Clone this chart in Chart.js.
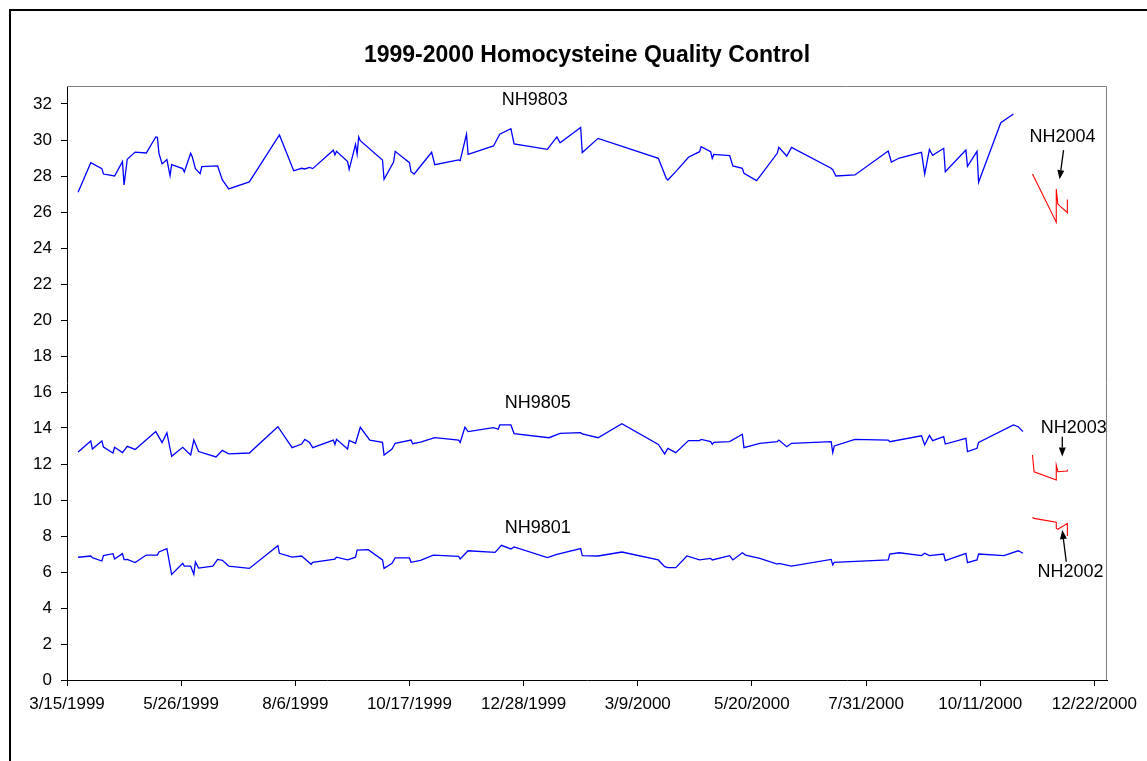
<!DOCTYPE html>
<html>
<head>
<meta charset="utf-8">
<title>1999-2000 Homocysteine Quality Control</title>
<script src="https://cdn.jsdelivr.net/npm/chart.js@4.4.1/dist/chart.umd.min.js"></script>
<style>
  html, body { margin: 0; padding: 0; background: #fff; }
  canvas { display: block; }
</style>
</head>
<body>
<canvas id="chart" width="1147" height="761"></canvas>
<script>
// x values are days counted from 3/15/1999
const xMax = 656;
const xTicks = [0, 72, 144, 216, 288, 360, 432, 504, 576, 648];
const yTicks = [0, 2, 4, 6, 8, 10, 12, 14, 16, 18, 20, 22, 24, 26, 28, 30, 32];

const nh9803Days = [7, 15, 22, 23, 30, 35, 36, 38, 43, 50, 56, 57, 58, 60, 63, 65, 66, 73, 74, 78, 79, 81, 84, 85, 95, 98, 102, 115,
  134, 143, 148, 150, 153, 155, 168, 169, 170, 177, 178, 182, 183, 184, 185, 199, 200, 206, 207, 216, 217, 219, 230, 232,
  247, 248, 252, 253, 269, 273, 280, 282, 303, 309, 311, 324, 325, 335, 373, 378, 379, 384, 392, 399, 400, 406, 407, 408,
  418, 420, 426, 427, 435, 448, 449, 454, 457, 482, 483, 485, 497, 518, 520, 525, 539, 541, 544, 546, 553, 554, 567, 568,
  574, 575, 589, 597];
const nh9803Vals = [27.1, 28.74, 28.41, 28.11, 28.0, 28.8, 27.5, 28.93, 29.33, 29.28, 30.17, 30.15, 29.26, 28.67, 28.91, 28.02, 28.63,
  28.41, 28.22, 29.26, 29.07, 28.41, 28.13, 28.52, 28.56, 27.78, 27.28, 27.67, 30.28, 28.29, 28.43, 28.39, 28.48, 28.41,
  29.43, 29.17, 29.37, 28.8, 28.37, 29.76, 29.22, 30.17, 29.96, 28.89, 27.82, 28.78, 29.37, 28.74, 28.24, 28.11, 29.32,
  28.63, 28.89, 28.85, 30.32, 29.2, 29.67, 30.32, 30.63, 29.78, 29.48, 30.17, 29.85, 30.69, 29.3, 30.09, 28.98, 27.87,
  27.78, 28.24, 29.04, 29.35, 29.63, 29.35, 28.98, 29.2, 29.13, 28.56, 28.43, 28.15, 27.74, 29.26, 29.59, 29.11, 29.59,
  28.43, 28.35, 28.0, 28.06, 29.39, 28.78, 29.0, 29.31, 28.11, 29.48, 29.15, 29.54, 28.24, 29.44, 28.54, 29.37, 27.65,
  30.96, 31.44];

const nh9805Days = [7, 15, 16, 22, 23, 29, 30, 35, 38, 43, 56, 60, 63, 66, 73, 78, 80, 83, 94, 98, 102, 115, 133, 142, 148, 150,
  153, 155, 168, 169, 170, 177, 178, 182, 185, 191, 199, 200, 205, 207, 217, 218, 223, 232, 247, 248, 251, 253, 269, 272,
  273, 280, 282, 304, 311, 324, 325, 335, 350, 373, 377, 379, 384, 392, 399, 400, 406, 407, 408, 418, 426, 427, 437, 448,
  449, 454, 457, 482, 483, 484, 497, 518, 519, 539, 541, 544, 546, 553, 554, 567, 568, 574, 575, 597, 600, 603];
const nh9805Vals = [12.67, 13.28, 12.83, 13.28, 12.94, 12.61, 12.93, 12.63, 12.98, 12.81, 13.8, 13.19, 13.74, 12.43, 12.93, 12.5,
  13.33, 12.69, 12.39, 12.76, 12.56, 12.61, 14.07, 12.91, 13.11, 13.37, 13.19, 12.91, 13.33, 13.09, 13.37, 12.83, 13.31,
  13.15, 14.04, 13.33, 13.2, 12.5, 12.83, 13.15, 13.33, 13.13, 13.22, 13.46, 13.33, 13.2, 14.04, 13.8, 14.02, 13.93, 14.17,
  14.17, 13.69, 13.46, 13.7, 13.74, 13.67, 13.46, 14.24, 13.09, 12.56, 12.87, 12.63, 13.3, 13.3, 13.37, 13.24, 13.09, 13.2,
  13.24, 13.65, 12.91, 13.15, 13.24, 13.33, 12.96, 13.15, 13.24, 12.63, 13.0, 13.37, 13.33, 13.24, 13.57, 13.06, 13.59,
  13.3, 13.52, 13.11, 13.43, 12.69, 12.87, 13.2, 14.17, 14.07, 13.8];

const nh9801Days = [7, 15, 16, 22, 23, 29, 30, 35, 36, 38, 43, 50, 57, 58, 63, 66, 73, 74, 78, 80, 81, 83, 92, 95, 98, 102, 115,
  133, 134, 142, 148, 154, 155, 169, 170, 177, 182, 183, 190, 199, 200, 205, 207, 216, 217, 223, 231, 247, 248, 253, 270,
  274, 280, 282, 303, 309, 324, 325, 335, 350, 373, 377, 379, 384, 391, 399, 406, 407, 418, 420, 426, 428, 437, 448, 449,
  457, 482, 483, 484, 518, 519, 525, 539, 541, 544, 553, 554, 567, 568, 574, 575, 591, 600, 603];
const nh9801Vals = [6.82, 6.89, 6.8, 6.61, 6.91, 7.02, 6.72, 7.02, 6.69, 6.7, 6.52, 6.94, 6.94, 7.11, 7.3, 5.87, 6.48, 6.33, 6.33,
  5.87, 6.56, 6.22, 6.33, 6.7, 6.65, 6.33, 6.2, 7.46, 7.04, 6.83, 6.89, 6.43, 6.54, 6.72, 6.82, 6.67, 6.82, 7.22, 7.24,
  6.67, 6.2, 6.48, 6.78, 6.78, 6.54, 6.65, 6.94, 6.87, 6.72, 7.18, 7.09, 7.48, 7.28, 7.39, 6.8, 6.98, 7.3, 6.91, 6.89,
  7.11, 6.67, 6.3, 6.24, 6.24, 6.89, 6.67, 6.76, 6.67, 6.91, 6.67, 7.07, 6.94, 6.76, 6.44, 6.48, 6.33, 6.7, 6.39, 6.54,
  6.67, 7.0, 7.07, 6.91, 7.04, 6.91, 7.0, 6.63, 7.04, 6.52, 6.67, 7.0, 6.91, 7.18, 7.04];

const nh2000Days = [609, 610, 624, 624, 625, 631, 631];
const nh2004Vals = [28.11, 27.93, 25.43, 27.28, 26.44, 25.96, 26.7];
const nh2003Vals = [12.5, 11.57, 11.11, 11.94, 11.57, 11.61, 11.7];
const nh2002Vals = [9.04, 8.98, 8.76, 8.43, 8.37, 8.7, 8.0];

// text labels and arrows, placed in data units (day, value)
const seriesLabels = [
  { text: "NH9803", day: 295, val: 32.2 },
  { text: "NH9805", day: 297, val: 15.4 },
  { text: "NH9801", day: 297, val: 8.43 },
  { text: "NH2004", day: 628, val: 30.17 },
  { text: "NH2003", day: 635, val: 14.02 },
  { text: "NH2002", day: 633, val: 6.02 }
];
const arrows = [
  { from: [628.6, 29.44], to: [626.1, 27.82] },
  { from: [627.8, 13.52], to: [627.8, 12.41] },
  { from: [630.3, 6.57], to: [627.8, 8.33] }
];

const FONT = '"Liberation Sans", Arial, sans-serif';

function dayLabel(v) {
  const d = new Date(1999, 2, 15 + v);
  return (d.getMonth() + 1) + "/" + d.getDate() + "/" + d.getFullYear();
}

function toPoints(days, vals) {
  return days.map((d, i) => ({ x: d, y: vals[i] }));
}

function lineSet(days, vals, color, width) {
  return {
    data: toPoints(days, vals),
    borderColor: color,
    borderWidth: width,
    pointRadius: 0,
    fill: false,
    tension: 0
  };
}

const framePlugin = {
  id: "frame",
  afterDraw(chart) {
    const c = chart.ctx;
    const a = chart.chartArea;
    const xs = chart.scales.x;
    const ys = chart.scales.y;
    c.save();

    // outer chart border
    c.strokeStyle = "#000";
    c.lineWidth = 2;
    c.strokeRect(10, 10, 1400, 1000);

    // plot area border (top and right)
    c.strokeStyle = "#808080";
    c.lineWidth = 1;
    c.beginPath();
    c.moveTo(a.left, a.top + 0.5);
    c.lineTo(a.right - 0.5, a.top + 0.5);
    c.lineTo(a.right - 0.5, a.bottom);
    c.stroke();

    // title
    c.fillStyle = "#000";
    c.font = "bold 23px " + FONT;
    c.textAlign = "center";
    c.textBaseline = "middle";
    c.fillText("1999-2000 Homocysteine Quality Control", (a.left + a.right) / 2, 56);

    // series labels
    c.font = "18px " + FONT;
    seriesLabels.forEach(l => {
      c.fillText(l.text, xs.getPixelForValue(l.day), ys.getPixelForValue(l.val));
    });

    // arrows
    c.strokeStyle = "#000";
    c.lineWidth = 1.3;
    arrows.forEach(ar => {
      const x1 = xs.getPixelForValue(ar.from[0]), y1 = ys.getPixelForValue(ar.from[1]);
      const x2 = xs.getPixelForValue(ar.to[0]), y2 = ys.getPixelForValue(ar.to[1]);
      const ang = Math.atan2(y2 - y1, x2 - x1);
      const len = 9, half = 3.5;
      c.beginPath();
      c.moveTo(x1, y1);
      c.lineTo(x2 - Math.cos(ang) * len, y2 - Math.sin(ang) * len);
      c.stroke();
      c.beginPath();
      c.moveTo(x2, y2);
      c.lineTo(x2 - Math.cos(ang) * len - Math.sin(ang) * half, y2 - Math.sin(ang) * len + Math.cos(ang) * half);
      c.lineTo(x2 - Math.cos(ang) * len + Math.sin(ang) * half, y2 - Math.sin(ang) * len - Math.cos(ang) * half);
      c.closePath();
      c.fill();
    });
    c.restore();
  }
};

const ctx = document.getElementById("chart").getContext("2d");
new Chart(ctx, {
  type: "line",
  data: {
    datasets: [
      lineSet(nh9803Days, nh9803Vals, "#0000ff", 1.3),
      lineSet(nh9805Days, nh9805Vals, "#0000ff", 1.3),
      lineSet(nh9801Days, nh9801Vals, "#0000ff", 1.3),
      lineSet(nh2000Days, nh2004Vals, "#ff0000", 1.1),
      lineSet(nh2000Days, nh2003Vals, "#ff0000", 1.1),
      lineSet(nh2000Days, nh2002Vals, "#ff0000", 1.1)
    ]
  },
  options: {
    responsive: false,
    animation: false,
    devicePixelRatio: 1,
    layout: { padding: { left: 0, top: 86, right: 40, bottom: 0 } },
    plugins: {
      legend: { display: false },
      tooltip: { enabled: false },
      title: { display: false }
    },
    scales: {
      x: {
        type: "linear",
        min: 0,
        max: xMax,
        afterBuildTicks: s => { s.ticks = xTicks.map(v => ({ value: v })); },
        afterFit: s => { s.height = 81; },
        grid: { drawOnChartArea: false, tickLength: 6, color: "#000" },
        border: { color: "#000", width: 1 },
        ticks: {
          callback: v => dayLabel(v),
          color: "#000",
          font: { family: FONT, size: 17 },
          padding: 8,
          maxRotation: 0,
          autoSkip: false
        }
      },
      y: {
        min: 0,
        max: 33,
        afterBuildTicks: s => { s.ticks = yTicks.map(v => ({ value: v })); },
        afterFit: s => { s.width = 67; },
        grid: { drawOnChartArea: false, tickLength: 6, color: "#000" },
        border: { color: "#000", width: 1 },
        ticks: {
          color: "#000",
          font: { family: FONT, size: 17 },
          padding: 9
        }
      }
    }
  },
  plugins: [framePlugin]
});
</script>
</body>
</html>
